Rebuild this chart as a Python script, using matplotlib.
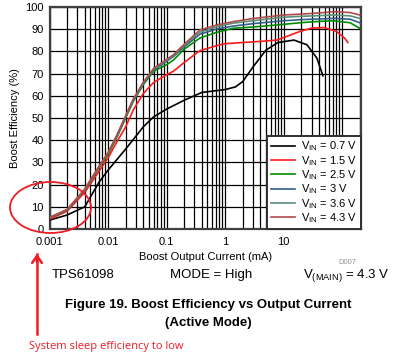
import matplotlib
matplotlib.use('Agg')
import matplotlib.pyplot as plt
from matplotlib.patches import Ellipse
from matplotlib.ticker import LogLocator, FixedLocator, NullFormatter

plt.rcParams['font.family'] = ['Liberation Sans', 'DejaVu Sans']
plt.rcParams['mathtext.fontset'] = 'custom'
plt.rcParams['mathtext.rm'] = 'Liberation Sans'
plt.rcParams['mathtext.it'] = 'Liberation Sans'

# curves (output current in mA, efficiency in %)
x_07 = [0.001, 0.002, 0.004, 0.007, 0.01, 0.02, 0.04, 0.06, 0.1, 0.2, 0.4, 0.7, 1, 1.5, 2, 3, 5, 8, 15, 25, 37, 47]
y_07 = [4, 6.3, 10, 21, 26.5, 36, 46, 50.5, 54, 58, 61.5, 62.3, 62.8, 64, 66.4, 73, 80.6, 84, 85.1, 83, 77, 69]

x_15 = [0.001, 0.002, 0.004, 0.007, 0.01, 0.014, 0.02, 0.027, 0.04, 0.06, 0.1, 0.13, 0.2, 0.37, 0.7, 1, 2, 4, 7.7, 12, 19, 30, 50, 80, 110, 125]
y_15 = [4.4, 8, 16.5, 26, 32, 39, 46, 53.6, 61, 66, 69.5, 71, 75, 80.3, 82.5, 83.5, 84, 84.5, 85.1, 87, 89, 90.5, 90.7, 89, 86, 84]

x_25 = [0.001, 0.002, 0.004, 0.007, 0.01, 0.014, 0.02, 0.027, 0.04, 0.06, 0.065, 0.1, 0.13, 0.2, 0.37, 0.7, 1.37, 3, 7.7, 19, 40, 71, 137, 200]
y_25 = [5, 8.5, 17.5, 27.5, 33.5, 41, 50, 57.5, 65, 71, 71.5, 74, 76, 81, 86, 88.5, 90.4, 91, 91.9, 92.9, 93.5, 93.8, 92.9, 90.4]

x_hi = [0.001, 0.002, 0.004, 0.007, 0.01, 0.014, 0.02, 0.027, 0.04, 0.06, 0.1, 0.13, 0.2, 0.37, 0.7, 1.37, 3, 10, 20, 50, 71, 137, 200]
y_30 = [5, 8.6, 17.6, 27.8, 34, 41.5, 50.5, 58, 65.5, 71.6, 75.5, 77.6, 82, 87.7, 90, 91.4, 92.5, 93.8, 94.3, 94.7, 94.9, 94.5, 92.9]
y_36 = [5.1, 8.7, 17.8, 28, 34.2, 41.8, 50.8, 58.3, 65.8, 72, 76, 78, 82.6, 88.6, 91, 92.7, 93.8, 95.4, 95.8, 96.2, 96.4, 96, 94.9]
y_43 = [5.2, 8.8, 18, 28.2, 34.4, 42, 51, 58.5, 66, 72.3, 76.4, 78.4, 83.2, 89.6, 91.8, 93.4, 94.8, 96.4, 96.8, 97.5, 97.9, 97.5, 96.4]

labels = [r'V$_{\mathrm{IN}}$ = 0.7 V', r'V$_{\mathrm{IN}}$ = 1.5 V', r'V$_{\mathrm{IN}}$ = 2.5 V',
          r'V$_{\mathrm{IN}}$ = 3 V', r'V$_{\mathrm{IN}}$ = 3.6 V', r'V$_{\mathrm{IN}}$ = 4.3 V']
colors = ['#000000', '#ff1a1a', '#008c00', '#2f5f8a', '#5a8f78', '#b04a4a']

W, H = 396, 363
fig = plt.figure(figsize=(W / 100, H / 100), dpi=100)
ax = fig.add_axes([49.5 / W, 1 - 229 / H, (361 - 49.5) / W, (229 - 7) / H])

series = [(x_07, y_07), (x_15, y_15), (x_25, y_25), (x_hi, y_30), (x_hi, y_36), (x_hi, y_43)]
for (xs, ys), c, lab in zip(series, colors, labels):
    ax.plot(xs, ys, color=c, lw=1.2, label=lab, zorder=3)

ax.set_xscale('log')
ax.set_xlim(0.001, 210)
ax.set_ylim(0, 100)
ax.set_yticks(range(0, 101, 10))
ax.xaxis.set_major_locator(FixedLocator([0.001, 0.01, 0.1, 1, 10, 100]))
ax.set_xticklabels(['0.001', '0.01', '0.1', '1', '10', ''])
ax.xaxis.set_minor_locator(LogLocator(base=10, subs=range(2, 10), numticks=20))
ax.xaxis.set_minor_formatter(NullFormatter())
ax.grid(True, which='both', axis='x', color='black', lw=0.9)
ax.grid(True, which='major', axis='y', color='black', lw=0.9)
ax.tick_params(which='both', length=0, labelsize=8)
ax.tick_params(axis='x', pad=6)
ax.tick_params(axis='y', pad=4)
for s in ax.spines.values():
    s.set_linewidth(1.6)
    s.set_color('#404040')

ax.set_xlabel('Boost Output Current (mA)', fontsize=8, labelpad=3)
ax.set_ylabel('Boost Efficiency (%)', fontsize=8, labelpad=4)

leg = ax.legend(loc='lower right', fontsize=8, frameon=True, fancybox=False,
                borderaxespad=0, handlelength=2.2, labelspacing=0.05,
                handletextpad=0.5, borderpad=0.35)
leg.get_frame().set_edgecolor('#303030')
leg.get_frame().set_linewidth(1.4)
leg.get_frame().set_alpha(1)

fig.text(347 / W, 1 - 262 / H, 'D007', fontsize=5.5, color='#909090', ha='center', va='center')
fig.text(52 / W, 1 - 275 / H, 'TPS61098', fontsize=9.5, ha='left', va='center')
fig.text(170 / W, 1 - 275 / H, 'MODE = High', fontsize=9.5, ha='left', va='center')
fig.text(390 / W, 1 - 275 / H, r'V$_{\mathrm{(MAIN)}}$ = 4.3 V', fontsize=9.5, ha='right', va='center')
fig.text(208 / W, 1 - 305 / H, 'Figure 19. Boost Efficiency vs Output Current', fontsize=9.5,
         fontweight='bold', ha='center', va='center')
fig.text(208 / W, 1 - 323 / H, '(Active Mode)', fontsize=9.5, fontweight='bold', ha='center', va='center')

# red annotation
fig.add_artist(Ellipse((50.5 / W, 1 - 207.5 / H), 81 / W, 51 / H, transform=fig.transFigure,
                       fill=False, edgecolor='#ee1c24', lw=1.3, clip_on=False))
fig.add_artist(plt.Line2D([37 / W, 37 / W], [1 - 334 / H, 1 - 254 / H], color='#ee1c24', lw=1.8,
                          transform=fig.transFigure))
ax.annotate('', xy=(37 / W, 1 - 251 / H), xytext=(37 / W, 1 - 265 / H), xycoords='figure fraction',
            textcoords='figure fraction',
            arrowprops=dict(arrowstyle='->,head_length=0.5,head_width=0.35', color='#ee1c24', lw=1.8))
fig.text(29 / W, 1 - 347 / H, 'System sleep efficiency to low', fontsize=8, color='#ee1c24',
         family=['Open Sans', 'DejaVu Sans'], ha='left', va='center')

fig.savefig('out.png', dpi=100)
